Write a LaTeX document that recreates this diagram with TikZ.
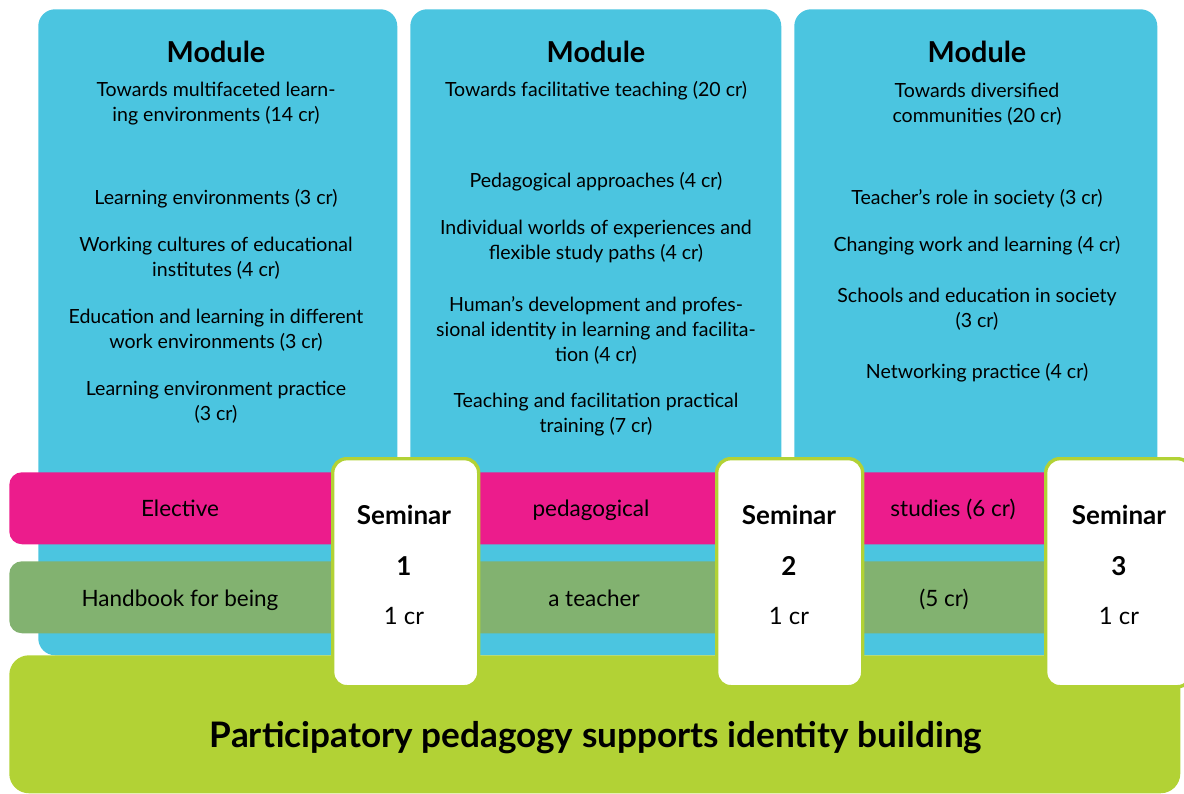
\documentclass[tikz,border=0pt]{standalone}
\usepackage{fontspec}
\setmainfont{Lato}
\usetikzlibrary{positioning}

\definecolor{modblue}{RGB}{75,197,224}
\definecolor{electpink}{RGB}{236,28,140}
\definecolor{handgreen}{RGB}{130,178,112}
\definecolor{baselime}{RGB}{178,210,53}

\newlength\pxu
\setlength\pxu{0.025cm}
\newcommand\bodyfont{\fontsize{13.9pt}{17.8pt}\selectfont}

\tikzset{
  module/.style={rectangle, rounded corners=12pt, fill=modblue, anchor=north west, minimum height=646\pxu},
  modtitle/.style={font=\fontsize{20.5pt}{24pt}\selectfont\bfseries},
  item/.style={align=center, font=\bodyfont, inner sep=0pt},
  band/.style={rectangle, rounded corners=9pt, anchor=north west, minimum width=1051\pxu, minimum height=72\pxu},
  bandtext/.style={font=\fontsize{16pt}{19pt}\selectfont, inner sep=0pt, anchor=base},
  seminar/.style={rectangle, rounded corners=10pt, draw=baselime, line width=2.4pt, fill=white, anchor=north west, minimum width=146\pxu, minimum height=228\pxu},
  semtext/.style={font=\fontsize{18.5pt}{22pt}\selectfont\bfseries},
  semcr/.style={font=\fontsize{17pt}{20pt}\selectfont}
}

\begin{document}
\begin{tikzpicture}[x=1\pxu,y=-1\pxu]
        \useasboundingbox (0,0) rectangle (1184,794);
        % modules
        \node (m1) [module, minimum width=359\pxu] at (38,9) {};
        \node (m2) [module, minimum width=371\pxu] at (410,9) {};
        \node (m3) [module, minimum width=363\pxu] at (794,9) {};

        \node (m1 title) [modtitle] at (216,52) {Module};
        \node (m1 head) [item] at (216,104) {Towards multifaceted learn-\\ing environments (14 cr)};
        \node (m1 a) [item] at (216,199) {Learning environments (3 cr)};
        \node (m1 b) [item] at (216,258) {Working cultures of educational\\institutes (4 cr)};
        \node (m1 c) [item] at (216,330) {Education and learning in different\\work environments (3 cr)};
        \node (m1 d) [item] at (216,402) {Learning environment practice\\(3 cr)};

        \node (m2 title) [modtitle] at (596,52) {Module};
        \node (m2 head) [item] at (596,91) {Towards facilitative teaching (20 cr)};
        \node (m2 a) [item] at (596,182) {Pedagogical approaches (4 cr)};
        \node (m2 b) [item] at (596,241.5) {Individual worlds of experiences and\\flexible study paths (4 cr)};
        \node (m2 c) [item] at (596,330) {Human's development and profes-\\sional identity in learning and facilita-\\tion (4 cr)};
        \node (m2 d) [item] at (596,414.5) {Teaching and facilitation practical\\training (7 cr)};

        \node (m3 title) [modtitle] at (977,52) {Module};
        \node (m3 head) [item] at (977,104) {Towards diversified\\communities (20 cr)};
        \node (m3 a) [item] at (977,199) {Teacher's role in society (3 cr)};
        \node (m3 b) [item] at (977,246) {Changing work and learning (4 cr)};
        \node (m3 c) [item] at (977,309.5) {Schools and education in society\\(3 cr)};
        \node (m3 d) [item] at (977,373) {Networking practice (4 cr)};

        % elective and handbook bands
        \node (elective) [band, fill=electpink] at (9,472) {};
        \node (handbook) [band, fill=handgreen] at (9,561) {};
        \node (elective 1) [bandtext] at (180,516) {Elective};
        \node (elective 2) [bandtext] at (591,516) {pedagogical};
        \node (elective 3) [bandtext] at (953,516) {studies (6 cr)};
        \node (handbook 1) [bandtext] at (180,606) {Handbook for being};
        \node (handbook 2) [bandtext] at (594,606) {a teacher};
        \node (handbook 3) [bandtext] at (944,606) {(5 cr)};

        % base
        \node (base) [rectangle, rounded corners=14pt, fill=baselime, anchor=north west, minimum width=1171\pxu, minimum height=138\pxu] at (9,655) {};
        \node (base text) [font=\fontsize{25pt}{28pt}\selectfont\bfseries] at (596,738) {Participatory pedagogy supports identity building};

        % seminars
        \node (s1) [seminar] at (331,457) {};
        \node (s2) [seminar] at (715,457) {};
        \node (s3) [seminar] at (1044,457) {};
        \node (s1 title) [semtext] at (404,515) {Seminar};
        \node (s1 num) [semtext] at (404,566) {1};
        \node (s1 cr) [semcr] at (404,616) {1 cr};
        \node (s2 title) [semtext] at (789,515) {Seminar};
        \node (s2 num) [semtext] at (789,566) {2};
        \node (s2 cr) [semcr] at (789,616) {1 cr};
        \node (s3 title) [semtext] at (1119,515) {Seminar};
        \node (s3 num) [semtext] at (1119,566) {3};
        \node (s3 cr) [semcr] at (1119,616) {1 cr};
\end{tikzpicture}
\end{document}
